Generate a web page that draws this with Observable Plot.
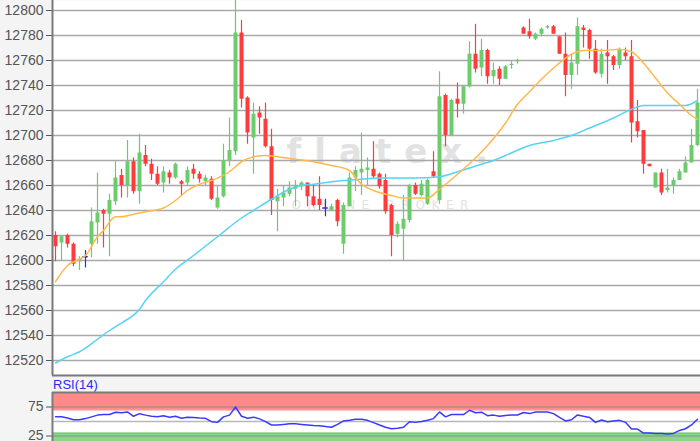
<!DOCTYPE html>
<html><head><meta charset="utf-8">
<script src="https://cdn.jsdelivr.net/npm/d3@7"></script>
<script src="https://cdn.jsdelivr.net/npm/@observablehq/plot@0.6"></script>
<style>
html,body{margin:0;padding:0;background:#f4f4f4;overflow:hidden;width:700px;height:441px;font-family:"Liberation Sans",Arial,sans-serif}
#rsilabel{height:16px;line-height:17px;font-size:13px;color:#2a2af5;padding-left:53px}
svg{display:block}
</style></head><body>
<div id="main"></div><div id="rsilabel">RSI(14)</div><div id="rsi"></div>
<script>
const opens = [12620,12614,12620,12613,12599,12603,12613,12630,12640,12637,
12647,12668,12660,12679,12655,12684,12677,12669,12662,12670,
12666,12663,12662,12673,12669,12663,12665,12642,12651,12680,
12687,12782,12730,12698,12718,12713,12691,12647,12650,12653,
12657,12659,12662,12651,12649,12642,12640,12648,12613,12643,
12666,12670,12672,12673,12669,12664,12644,12621,12625,12632,
12660,12652,12645,12671,12648,12732,12700,12729,12725,12739,
12765,12754,12768,12747,12753,12745,12756,12759,12786,12783,
12777,12781,12786,12787,12779,12765,12748,12757,12786,12784,
12769,12749,12766,12763,12756,12766,12763,12711,12704,12677,
12658,12670,12656,12660,12664,12670,12678,12692];
const closes = [12611,12619,12613,12597,12601,12603,12631,12638,12637,12648,
12666,12660,12679,12655,12686,12677,12669,12661,12671,12666,
12677,12661,12672,12669,12665,12666,12649,12650,12680,12688,
12782,12729,12702,12717,12714,12691,12648,12651,12654,12658,
12660,12662,12651,12644,12644,12642,12643,12631,12644,12666,
12672,12673,12674,12667,12659,12639,12620,12629,12633,12660,
12653,12661,12664,12667,12731,12700,12728,12725,12739,12765,
12753,12768,12747,12752,12745,12755,12757,12760,12781,12779,
12781,12785,12787,12781,12765,12748,12758,12787,12784,12769,
12750,12765,12763,12756,12768,12763,12710,12703,12677,12675,
12670,12654,12658,12664,12671,12678,12692,12726];
const highs = [12623,12620,12621,12614,12603,12608,12642,12670,12641,12653,
12679,12673,12696,12682,12701,12692,12681,12675,12675,12672,
12678,12664,12675,12677,12671,12668,12667,12659,12693,12714,
12808,12792,12731,12726,12723,12726,12705,12657,12660,12663,
12664,12663,12662,12660,12667,12649,12645,12649,12646,12670,
12675,12702,12682,12695,12670,12669,12645,12631,12652,12661,
12662,12664,12665,12687,12751,12733,12729,12742,12740,12775,
12789,12777,12769,12758,12755,12756,12759,12761,12787,12793,
12782,12786,12788,12788,12779,12782,12765,12794,12788,12785,
12776,12769,12776,12764,12770,12770,12776,12728,12704,12677,
12670,12673,12673,12666,12673,12683,12705,12737];
const lows = [12599,12600,12610,12595,12592,12594,12602,12613,12610,12603,
12644,12650,12650,12653,12645,12675,12664,12660,12654,12661,
12665,12652,12660,12665,12662,12660,12648,12641,12650,12675,
12684,12722,12693,12669,12701,12690,12636,12623,12643,12651,
12643,12656,12643,12643,12640,12635,12639,12627,12605,12643,
12655,12652,12660,12665,12657,12637,12603,12618,12600,12630,
12652,12651,12644,12666,12645,12691,12699,12714,12717,12738,
12750,12747,12741,12741,12740,12745,12753,12757,12781,12777,
12776,12779,12785,12781,12765,12731,12737,12748,12770,12761,
12749,12746,12741,12752,12753,12760,12694,12698,12669,12675,
12658,12652,12654,12653,12664,12670,12678,12691];

const priceTicks = [12520,12540,12560,12580,12600,12620,12640,12660,12680,12700,12720,12740,12760,12780,12800];
const priceDomain = [12508, 12808];

const maFastIdx = [1,3,5,6,8,9,11,12,14,16,19,21,23,25,27,30,32,34,36,38,41,44,47,49,50,52,54,57,59,63,65,68,71,73,76,78,80,82,84,87,89,92,95,97,99,101,103,105,107,108];
const maFastVal = [12583,12596,12601,12604,12619,12624,12635,12635,12637,12639,12642,12648,12656,12661,12664,12671,12679,12683,12684,12683,12681,12679,12676,12674,12672,12661,12656,12652,12650,12650,12657,12669,12682,12692,12710,12725,12735,12745,12754,12765,12768,12768,12769,12767,12758,12746,12734,12725,12716,12713];

const maSlowIdx = [1,3,5,8,10,12,15,16,19,21,24,28,32,34,37,40,42,44,49,52,55,57,61,65,68,72,74,76,80,84,87,90,94,97,99,103,106,108];
const maSlowVal = [12518,12523,12527,12537,12544,12550,12561,12568,12583,12593,12604,12619,12634,12640,12649,12657,12660,12661,12664,12665,12666,12666,12666,12667,12671,12677,12680,12684,12692,12696,12700,12706,12714,12721,12724,12724,12724,12728];

const rsiVals = [58,58,56,53,53,55,58,61,62,62,
66,65,66.5,59,63.5,61,59,58,60,57.5,
59,55.5,57.5,57,56,55.5,49.7,48.5,58,61,
75,59,55.5,57.5,54.5,49.7,44,44,45,46,
46,45,44,43,42.5,41.5,40,45,51,52,
53.8,53.8,52,48,44,40,37.5,38.5,40,49.7,
48.5,50,52,55,66.5,58,62,62,62,69.4,
65,66,60,61,59,60.5,61.3,61.3,65.5,63.6,
66.5,66.5,66.5,63.6,57,51,53,61.3,59,57,
48.5,52.7,49.7,51,52,48.5,37,37,30,30,
29.5,29.5,28.4,29.5,34.6,37.5,44,53.8];
const rsiTicks = [25, 75];
const rsiGrid = [25, 50, 75];
const rsiDomain = [0, 100];
const overbought = [70, 100];
const oversold = [0, 30];

const watermark = "flatex.";
const watermarkSub = "ONLINE BROKER";

const GREEN = "#6ccc6c", RED = "#ff3b3b", BLUE = "#4422dd";
const ORANGE = "#ffb84a", CYAN = "#55d4f5", AXIS = "#7a7a7a";

const candles = opens.map((o, k) => ({i: k + 1, open: o, close: closes[k], high: highs[k], low: lows[k]}));
const xDomain = [0.5, candles.length + 0.5];
const up = d => d.close > d.open, down = d => d.close < d.open, doji = d => d.close === d.open;
const maFast = maFastIdx.map((i, k) => ({i, v: maFastVal[k]}));
const maSlow = maSlowIdx.map((i, k) => ({i, v: maSlowVal[k]}));
const rsi = rsiVals.map((v, k) => ({i: k + 1, v}));

const style = {background: "transparent", color: "#555", fontSize: "14px", fontFamily: "'Liberation Sans', Arial, sans-serif", overflow: "visible"};

const main = Plot.plot({
  width: 700, height: 376,
  marginLeft: 52, marginRight: 0, marginTop: 0, marginBottom: 1,
  style,
  x: {domain: xDomain, axis: null},
  y: {domain: priceDomain, ticks: priceTicks, tickFormat: d => String(d), tickSize: 6, tickPadding: 3, label: null},
  marks: [
    Plot.frame({fill: "white", stroke: "none"}),
    Plot.text([watermark], {frameAnchor: "top-left", dx: 234, dy: 152, lineAnchor: "middle", textAnchor: "start", fontSize: 34, fontWeight: "bold", fontFamily: "'DejaVu Sans', sans-serif", fill: "#e2e2e2"}),
    Plot.text([watermarkSub], {frameAnchor: "top-left", dx: 239, dy: 205, lineAnchor: "middle", textAnchor: "start", fontSize: 12, fontFamily: "'DejaVu Sans', sans-serif", fill: "#e2e2e2"}),
    Plot.ruleY(priceTicks, {stroke: "#a9a9a9", strokeWidth: 1.5}),
    Plot.ruleX(candles, {filter: up, x: "i", y1: "low", y2: "high", stroke: GREEN, strokeWidth: 1.2}),
    Plot.ruleX(candles, {filter: down, x: "i", y1: "low", y2: "high", stroke: RED, strokeWidth: 1.2}),
    Plot.ruleX(candles, {filter: doji, x: "i", y1: "low", y2: "high", stroke: BLUE, strokeWidth: 1.2}),
    Plot.ruleX(candles, {filter: up, x: "i", y1: "open", y2: "close", stroke: GREEN, strokeWidth: 4}),
    Plot.ruleX(candles, {filter: down, x: "i", y1: "open", y2: "close", stroke: RED, strokeWidth: 4}),
    Plot.ruleY(candles, {filter: doji, y: "open", x1: d => d.i - 0.45, x2: d => d.i + 0.45, stroke: BLUE, strokeWidth: 1.5}),
    Plot.line(maSlow, {x: "i", y: "v", stroke: CYAN, strokeWidth: 1.5, curve: "monotone-x"}),
    Plot.line(maFast, {x: "i", y: "v", stroke: ORANGE, strokeWidth: 1.5, curve: "monotone-x"}),
    Plot.ruleX([xDomain[0]], {stroke: AXIS, strokeWidth: 2}),
    Plot.ruleY([priceDomain[0]], {stroke: AXIS, strokeWidth: 2})
  ]
});
d3.select(main).selectAll("text").filter(function() { return this.textContent === watermark; }).style("letter-spacing", "13px");
d3.select(main).selectAll("text").filter(function() { return this.textContent === watermarkSub; }).style("letter-spacing", "6.5px");
document.getElementById("main").append(main);

const rsiPlot = Plot.plot({
  width: 700, height: 58,
  marginLeft: 52, marginRight: 0, marginTop: 0, marginBottom: 0,
  style,
  x: {domain: xDomain, axis: null},
  y: {domain: rsiDomain, ticks: rsiTicks, tickFormat: d => String(d), tickSize: 6, tickPadding: 3, label: null},
  marks: [
    Plot.frame({fill: "white", stroke: "none"}),
    Plot.rect([overbought], {x1: () => xDomain[0], x2: () => xDomain[1], y1: d => d[0], y2: d => d[1], fill: "#ff8a8a"}),
    Plot.rect([oversold], {x1: () => xDomain[0], x2: () => xDomain[1], y1: d => d[0], y2: d => d[1], fill: "#8ad68a"}),
    Plot.ruleY([overbought[0]], {stroke: "#f07272", strokeWidth: 1}),
    Plot.ruleY([oversold[1]], {stroke: "#6cc46c", strokeWidth: 1}),
    Plot.ruleY(rsiGrid, {stroke: "#888", strokeOpacity: 0.6, strokeWidth: 1.5}),
    Plot.line(rsi, {x: "i", y: "v", stroke: "#3a3aff", strokeWidth: 1.5}),
    Plot.ruleX([xDomain[0]], {stroke: AXIS, strokeWidth: 2}),
    Plot.ruleY([rsiDomain[1]], {stroke: AXIS, strokeWidth: 2})
  ]
});
document.getElementById("rsi").append(rsiPlot);
</script>
</body></html>
